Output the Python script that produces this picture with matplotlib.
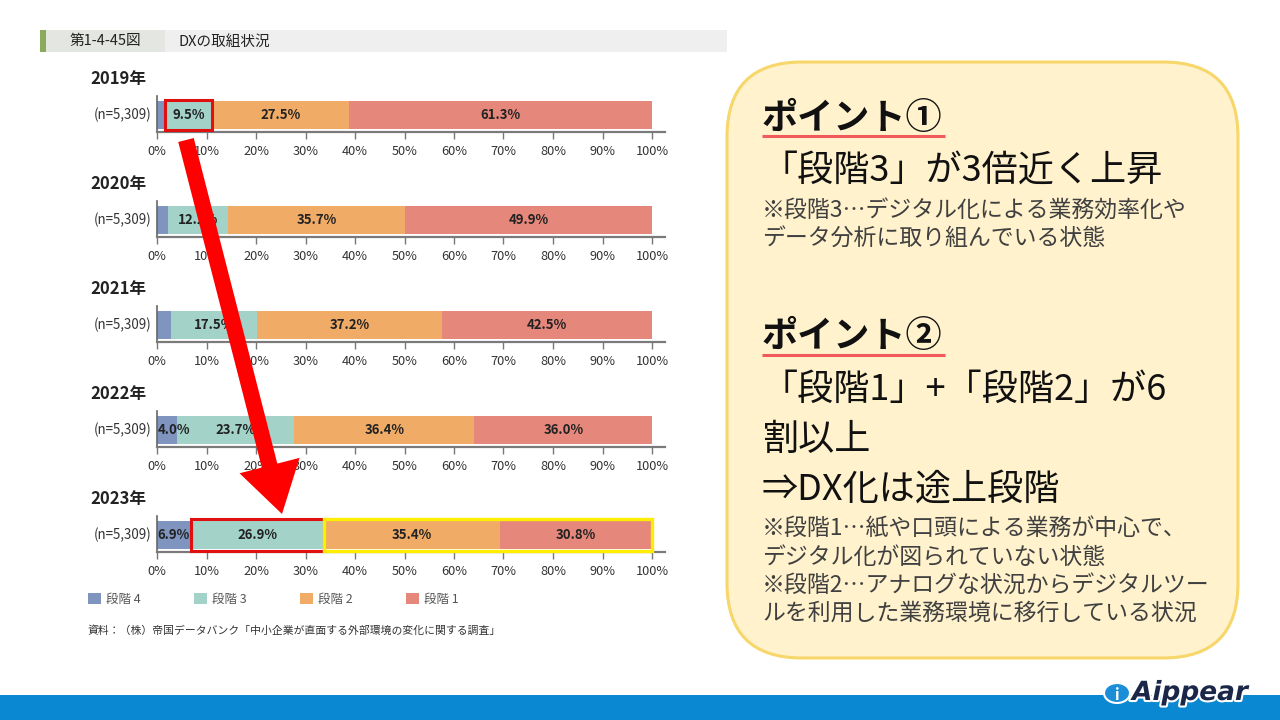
import matplotlib
matplotlib.use("Agg")
import matplotlib.pyplot as plt
from matplotlib.patches import Rectangle, FancyBboxPatch, FancyArrow, Patch, Ellipse
import matplotlib.patheffects as pe
import numpy as np

plt.rcParams['font.family'] = ['Noto Sans CJK JP', 'DejaVu Sans']

# ---------------- data ----------------
years = ["2019年", "2020年", "2021年", "2022年", "2023年"]
n_label = "(n=5,309)"
stages = ["段階 4", "段階 3", "段階 2", "段階 1"]
stage4 = [1.7, 2.2, 2.8, 4.0, 6.9]
stage3 = [9.5, 12.2, 17.5, 23.7, 26.9]
stage2 = [27.5, 35.7, 37.2, 36.4, 35.4]
stage1 = [61.3, 49.9, 42.5, 36.0, 30.8]
ticks = [0, 10, 20, 30, 40, 50, 60, 70, 80, 90, 100]
tick_labels = [f"{t}%" for t in ticks]
colors = ["#7f95bf", "#a2d2c8", "#f0ac66", "#e5877b"]

W, H = 1280, 720
fig = plt.figure(figsize=(12.8, 7.2), dpi=100)
fig.patch.set_facecolor("white")

# overlay axes in pixel coordinates for slide decorations
ov = fig.add_axes([0, 0, 1, 1], zorder=0)
ov.set_xlim(0, W)
ov.set_ylim(H, 0)
ov.axis("off")

# header band
ov.add_patch(Rectangle((40, 30), 687, 22, color="#efefef", lw=0))
ov.add_patch(Rectangle((46, 30), 119, 22, color="#e4e6e1", lw=0))
ov.add_patch(Rectangle((40, 30), 6, 22, color="#8aac5a", lw=0))
ov.text(70, 41.5, "第1-4-45図", fontsize=10.5, va="center", ha="left", color="#222222")
ov.text(178, 41.5, "DXの取組状況", fontsize=10.5, va="center", ha="left", color="#222222")

# chart axes
px_per_pct = 4.95
x0 = 157
xmax = 102.6
axes_w = xmax * px_per_pct
data = np.array([stage4, stage3, stage2, stage1])
bar_axes = []
for i, yr in enumerate(years):
    top = 101 + 105 * i
    ax_top = top - 5
    ax_bot = top + 31
    ax = fig.add_axes([x0 / W, 1 - ax_bot / H, axes_w / W, (ax_bot - ax_top) / H], zorder=2)
    ax.set_facecolor("none")
    ax.set_xlim(0, xmax)
    ax.set_ylim(0, 1)
    left = 0.0
    for s in range(4):
        v = data[s, i]
        ax.barh(0.472, v, left=left, height=0.778, color=colors[s], lw=0)
        if v >= 3.5:
            if s == 0:
                ax.text(left + 0.1, 0.472, f"{v:.1f}%", ha="left", va="center",
                        fontsize=9.5, fontweight="bold", color="#222222")
            else:
                ax.text(left + v / 2, 0.472, f"{v:.1f}%", ha="center", va="center",
                        fontsize=9.5, fontweight="bold", color="#222222")
        left += v
    ax.set_xticks(ticks)
    ax.set_xticklabels(tick_labels, fontsize=9.2, color="#333333")
    ax.set_yticks([])
    for sp in ["top", "right"]:
        ax.spines[sp].set_visible(False)
    ax.spines["bottom"].set_color("#7a7a7a")
    ax.spines["bottom"].set_linewidth(1.6)
    ax.spines["left"].set_color("#666666")
    ax.spines["left"].set_linewidth(1.2)
    ax.tick_params(axis="x", direction="out", length=5, width=1, color="#777777", pad=4.5)
    ax.text(-0.01, 0.472, n_label, transform=ax.transAxes, ha="right", va="center",
            fontsize=9.6, color="#333333")
    ov.text(90, top - 22, yr, fontsize=12, fontweight="bold", va="center", ha="left",
            color="#222222")
    bar_axes.append(ax)

# highlight boxes (in data coordinates)
ax19 = bar_axes[0]
ax19.add_patch(Rectangle((stage4[0], 0.06), stage3[0], 0.83, fill=False,
                         ec="#e01010", lw=2.2, zorder=5, clip_on=False))
ax23 = bar_axes[4]
ax23.add_patch(Rectangle((stage4[4], 0.04), stage3[4], 0.87, fill=False,
                         ec="#e01010", lw=2.2, zorder=5, clip_on=False))
ax23.add_patch(Rectangle((stage4[4] + stage3[4], 0.04), stage2[4] + stage1[4], 0.87,
                         fill=False, ec="#ffee00", lw=2.4, zorder=5, clip_on=False))

# legend
handles = [Patch(facecolor=c, edgecolor="none") for c in colors]
fig.legend(handles, stages, ncol=4, loc="center left", bbox_to_anchor=(77 / W, 1 - 599 / H),
           frameon=False, fontsize=9, handlelength=1.0, handleheight=1.0,
           handletextpad=0.4, columnspacing=4.3, labelcolor="#555555")

ov.text(88, 631, "資料：（株）帝国データバンク「中小企業が直面する外部環境の変化に関する調査」",
        fontsize=7.8, va="center", ha="left", color="#333333")

# big red arrow (overlay, on top of chart)
ov2 = fig.add_axes([0, 0, 1, 1], zorder=6)
ov2.set_xlim(0, W)
ov2.set_ylim(H, 0)
ov2.axis("off")
ov2.patch.set_alpha(0)
ov2.add_patch(FancyArrow(186, 140, 96, 374, width=16, head_width=62, head_length=50,
                         length_includes_head=True, color="#ff0000", lw=0))

# right text box
ov.add_patch(FancyBboxPatch((727 + 75, 62 + 75), 1238 - 727 - 150, 658 - 62 - 150,
                            boxstyle="round,pad=75", fc="#fff2cc", ec="#f7d66a", lw=2.2))
tx = 762
ov.text(tx, 118, "ポイント①", fontsize=26, fontweight="bold", va="center", ha="left", color="#111111")
ov.plot([762, 945], [136, 136], color="#f05a5a", lw=2.2, solid_capstyle="butt")
ov.text(tx, 171, "「段階3」が3倍近く上昇", fontsize=26, va="center", ha="left", color="#111111")
ov.text(tx, 210, "※段階3…デジタル化による業務効率化や", fontsize=16.5, va="center", ha="left", color="#404040")
ov.text(tx, 238, "データ分析に取り組んでいる状態", fontsize=16.5, va="center", ha="left", color="#404040")
ov.text(tx, 336, "ポイント②", fontsize=26, fontweight="bold", va="center", ha="left", color="#111111")
ov.plot([762, 945], [355, 355], color="#f05a5a", lw=2.2, solid_capstyle="butt")
ov.text(tx, 390, "「段階1」+「段階2」が6", fontsize=26, va="center", ha="left", color="#111111")
ov.text(tx, 440, "割以上", fontsize=26, va="center", ha="left", color="#111111")
ov.text(tx, 490, "⇒DX化は途上段階", fontsize=26, va="center", ha="left", color="#111111")
notes = ["※段階1…紙や口頭による業務が中心で、",
         "デジタル化が図られていない状態",
         "※段階2…アナログな状況からデジタルツー",
         "ルを利用した業務環境に移行している状況"]
for k, line in enumerate(notes):
    ov.text(tx, 529 + 28 * k, line, fontsize=16.5, va="center", ha="left", color="#404040")

# bottom band and logo
ov.add_patch(Rectangle((0, 695), W, 25, color="#0a88d2", lw=0))
ov.add_patch(Ellipse((1117, 693), 26, 20, color="#1a8fd8", ec="white", lw=1.5))
ov.text(1117, 695, "i", fontsize=11, fontweight="bold", color="white", ha="center", va="center",
        style="italic")
t = ov.text(1132, 693, "Aippear", fontsize=19, fontweight="bold", style="italic",
            color="#1b2748", ha="left", va="center", family=["DejaVu Sans"])
t.set_path_effects([pe.withStroke(linewidth=3, foreground="white")])

fig.savefig("out.png", dpi=100)
